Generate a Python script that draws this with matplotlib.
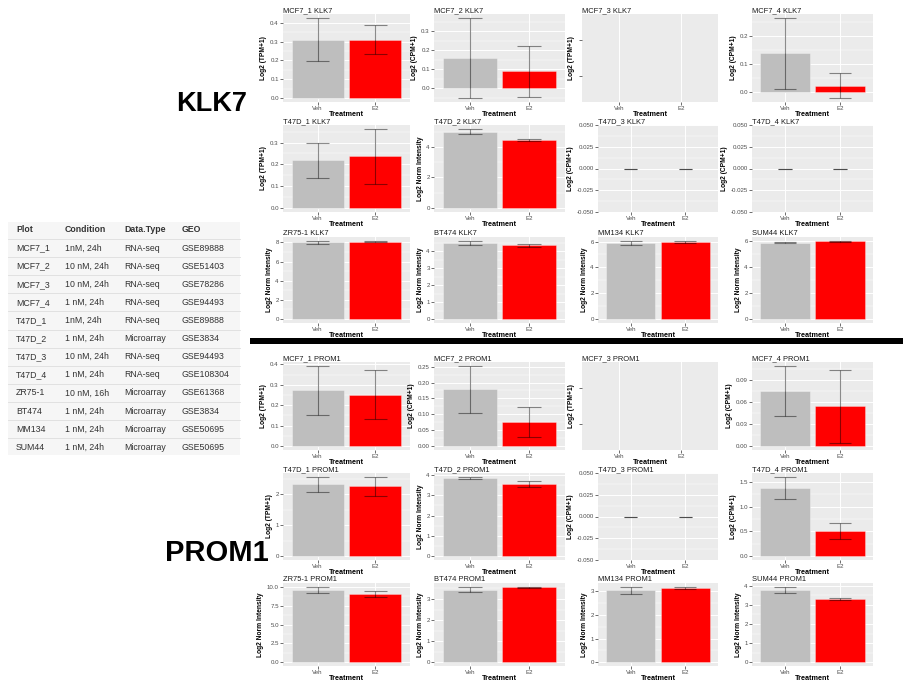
import numpy as np
import matplotlib
matplotlib.use("Agg")
import matplotlib.pyplot as plt
from matplotlib.ticker import AutoMinorLocator

plt.rcParams['font.family'] = ['Liberation Sans', 'DejaVu Sans']

# ---- table data ----
tab_header = ["Plot", "Condition", "Data.Type", "GEO"]
tab_plot = ["MCF7_1", "MCF7_2", "MCF7_3", "MCF7_4", "T47D_1", "T47D_2", "T47D_3",
            "T47D_4", "ZR75-1", "BT474", "MM134", "SUM44"]
tab_cond = ["1nM, 24h", "10 nM, 24h", "10 nM, 24h", "1 nM, 24h", "1nM, 24h", "1 nM, 24h",
            "10 nM, 24h", "1 nM, 24h", "10 nM, 16h", "1 nM, 24h", "1 nM, 24h", "1 nM, 24h"]
tab_type = ["RNA-seq", "RNA-seq", "RNA-seq", "RNA-seq", "RNA-seq", "Microarray", "RNA-seq",
            "RNA-seq", "Microarray", "Microarray", "Microarray", "Microarray"]
tab_geo = ["GSE89888", "GSE51403", "GSE78286", "GSE94493", "GSE89888", "GSE3834", "GSE94493",
           "GSE108304", "GSE61368", "GSE3834", "GSE50695", "GSE50695"]

# ---- bar data (None = no data) ----
groups = ["Veh", "E2"]
ylab_of = ["Log2 (TPM+1)", "Log2 (CPM+1)", "Log2 (TPM+1)", "Log2 (CPM+1)",
           "Log2 (TPM+1)", "Log2 Norm Intensity", "Log2 (CPM+1)", "Log2 (CPM+1)",
           "Log2 Norm Intensity", "Log2 Norm Intensity", "Log2 Norm Intensity", "Log2 Norm Intensity"]

klk7_veh = [0.31, 0.16, None, 0.138, 0.218, 5.0, 0.0, 0.0, 8.0, 4.5, 5.9, 5.9]
klk7_e2 = [0.31, 0.09, None, 0.024, 0.237, 4.45, 0.0, 0.0, 8.05, 4.35, 5.95, 6.0]
klk7_veh_err = [0.115, 0.21, None, 0.125, 0.081, 0.17, 0.0, 0.0, 0.15, 0.12, 0.15, 0.06]
klk7_e2_err = [0.078, 0.135, None, 0.044, 0.125, 0.08, 0.0, 0.0, 0.06, 0.09, 0.1, 0.04]
klk7_ticks = [["0.0", "0.1", "0.2", "0.3", "0.4"], ["0.0", "0.1", "0.2", "0.3"], [],
              ["0.0", "0.1", "0.2"], ["0.0", "0.1", "0.2", "0.3"], ["0", "2", "4"],
              ["-0.050", "-0.025", "0.000", "0.025", "0.050"],
              ["-0.050", "-0.025", "0.000", "0.025", "0.050"],
              ["0", "2", "4", "6", "8"], ["0", "1", "2", "3", "4"],
              ["0", "2", "4", "6"], ["0", "2", "4", "6"]]

prom1_veh = [0.272, 0.178, None, 0.075, 2.31, 3.85, 0.0, 1.38, 9.6, 3.45, 3.05, 3.8]
prom1_e2 = [0.252, 0.075, None, 0.054, 2.25, 3.55, 0.0, 0.5, 9.05, 3.55, 3.15, 3.3]
prom1_veh_err = [0.12, 0.074, None, 0.034, 0.24, 0.06, 0.0, 0.22, 0.42, 0.13, 0.15, 0.15]
prom1_e2_err = [0.118, 0.048, None, 0.05, 0.3, 0.15, 0.0, 0.16, 0.4, 0.03, 0.05, 0.05]
prom1_ticks = [["0.0", "0.1", "0.2", "0.3", "0.4"],
               ["0.00", "0.05", "0.10", "0.15", "0.20", "0.25"], [],
               ["0.00", "0.03", "0.06", "0.09"], ["0", "1", "2"], ["0", "1", "2", "3", "4"],
               ["-0.050", "-0.025", "0.000", "0.025", "0.050"],
               ["0.0", "0.5", "1.0", "1.5"],
               ["0.0", "2.5", "5.0", "7.5", "10.0"], ["0", "1", "2", "3"],
               ["0", "1", "2", "3"], ["0", "1", "2", "3", "4"]]

W, H = 904, 683
fig = plt.figure(figsize=(W / 100, H / 100), dpi=100)
fig.patch.set_facecolor('white')

def px_axes(x0, y0, x1, y1):
    return fig.add_axes([x0 / W, 1 - y1 / H, (x1 - x0) / W, (y1 - y0) / H])

# overlay axes in pixel coords for table, labels, separator
ov = fig.add_axes([0, 0, 1, 1])
ov.set_xlim(0, W); ov.set_ylim(H, 0); ov.axis('off')

# table
ov.add_patch(plt.Rectangle((8, 222), 232, 233, facecolor='#f6f6f6', edgecolor='none'))
col_x = [16, 65, 124, 182]
row_y0, row_dy = 230, 18.1
for c, h in enumerate(tab_header):
    ov.text(col_x[c], row_y0, h, fontsize=6.3, fontweight='bold', color='#333333', va='center')
for r in range(len(tab_plot)):
    y = row_y0 + (r + 1) * row_dy
    ov.plot([8, 240], [y - row_dy / 2, y - row_dy / 2], color='#dddddd', lw=0.6)
    for c, col in enumerate([tab_plot, tab_cond, tab_type, tab_geo]):
        ov.text(col_x[c], y, col[r], fontsize=6.3, color='#333333', va='center')

ov.text(212, 104, "KLK7", fontsize=19.5, fontweight='bold', ha='center', va='center')
ov.text(217, 553, "PROM1", fontsize=21, fontweight='bold', ha='center', va='center')
ov.add_patch(plt.Rectangle((250, 338), 654, 6, facecolor='black', edgecolor='none'))

col_l = [283, 434, 598, 752]
col_r = [410, 565, 718, 873]
rows_klk7 = [(14, 102), (125, 212), (237, 323)]
rows_prom1 = [(362, 450), (473, 560), (583, 666)]
bar_cols = ['#bebebe', '#ff0000']

def draw_panel(i, rowspec, gene, veh, e2, verr, eerr, ticks):
    r, c = divmod(i, 4)
    y0, y1 = rowspec[r]
    empty = veh[i] is None
    x0 = col_l[c] - (16 if empty else 0)
    ax = px_axes(x0, y0, col_r[c], y1)
    ax.set_facecolor('#ebebeb')
    for s in ax.spines.values():
        s.set_visible(False)
    ax.set_xlim(0.4, 2.6)
    ax.set_xticks([1, 2])
    ax.set_xticklabels(groups)
    ax.set_axisbelow(True)
    ax.grid(True, which='major', color='white', lw=0.7)
    ax.grid(True, which='minor', axis='y', color='white', lw=0.35)
    ax.tick_params(axis='both', which='major', labelsize=4.4, labelcolor='#4d4d4d',
                   color='#333333', length=2, width=0.5, pad=1)
    ax.tick_params(axis='y', which='minor', length=0)
    ax.set_title(f"{tab_plot[i]} {gene}", loc='left', fontsize=5.4, pad=1.5, color='#1a1a1a')
    ax.set_xlabel("Treatment", fontsize=5.2, fontweight='bold', labelpad=0)
    ax.set_ylabel(ylab_of[i], fontsize=4.8, fontweight='bold', labelpad=2)
    if empty:
        ax.set_yticks([0.3, 0.7])
        ax.set_yticklabels(["", ""])
        ax.set_ylim(0, 1)
        ax.grid(False, axis='y', which='both')
        return
    vals = [veh[i], e2[i]]
    errs = [verr[i], eerr[i]]
    tv = [float(t) for t in ticks[i]]
    ax.bar([1, 2], vals, width=0.9, color=bar_cols, edgecolor=(1, 1, 1, 0.35), lw=0.6)
    for k in range(2):
        lo, hi = vals[k] - errs[k], vals[k] + errs[k]
        cw = 0.2 if errs[k] > 0 else 0.12
        ax.vlines(k + 1, lo, hi, color='black', alpha=0.45, lw=0.8)
        ax.hlines([lo, hi], k + 1 - cw, k + 1 + cw, color='black', alpha=0.45, lw=0.8)
    lows = [min(0, v - e) for v, e in zip(vals, errs)]
    highs = [v + e for v, e in zip(vals, errs)]
    lo, hi = min(lows), max(highs)
    if hi - lo == 0:
        ax.set_ylim(-0.0505, 0.0505)
    else:
        rg = hi - lo
        ax.set_ylim(lo - 0.05 * rg, hi + 0.05 * rg)
    ax.set_yticks(tv)
    ax.set_yticklabels(ticks[i])
    ax.yaxis.set_minor_locator(AutoMinorLocator(2))

for i in range(12):
    draw_panel(i, rows_klk7, "KLK7", klk7_veh, klk7_e2, klk7_veh_err, klk7_e2_err, klk7_ticks)
    draw_panel(i, rows_prom1, "PROM1", prom1_veh, prom1_e2, prom1_veh_err, prom1_e2_err, prom1_ticks)

fig.savefig("out.png", dpi=100, facecolor='white')
